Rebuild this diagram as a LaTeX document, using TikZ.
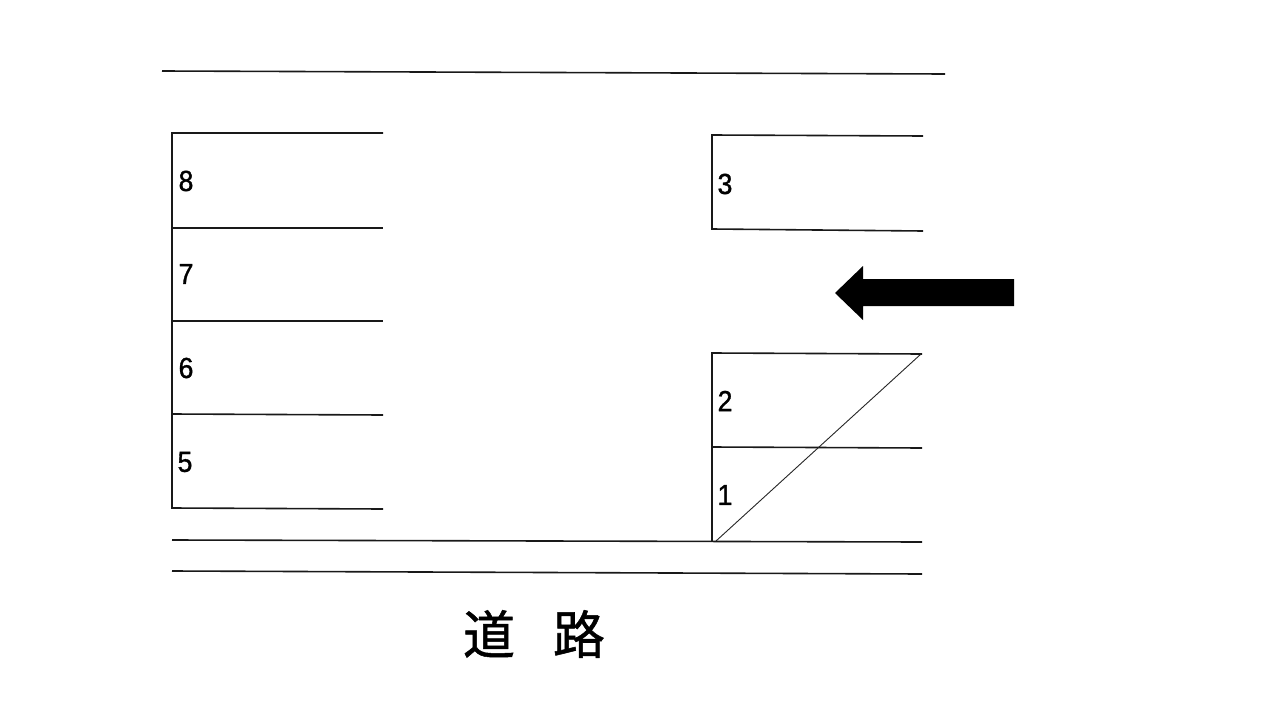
\documentclass[tikz,border=0pt]{standalone}
\usepackage{fontspec}
\setmainfont{Liberation Sans}
\newfontfamily\cjk[FakeBold=1]{Noto Sans CJK JP}
\newfontfamily\numf[FakeBold=1.2,FakeStretch=0.92]{Liberation Sans}
\tikzset{ln/.style={line width=1.6pt,black!90},thin ln/.style={line width=0.9pt,black!85},num/.style={font=\numf\fontsize{29}{29}\selectfont,inner sep=0pt,anchor=center}}
\begin{document}
\begin{tikzpicture}[x=1pt,y=-1pt]
\useasboundingbox[fill=white] (0,0) rectangle (1280,720);
\draw[ln] (162,71) -- (945,74);
\draw[ln] (383,133) -- (172,133) -- (172,508) -- (383,509);
\draw[ln] (172,228) -- (383,228);
\draw[ln] (172,321) -- (383,321);
\draw[ln] (172,414) -- (383,415);
\draw[ln] (923,136) -- (712,135) -- (712,229) -- (923,231);
\draw[ln] (922,354) -- (712,353) -- (712,541);
\draw[ln] (712,447) -- (922,448);
\draw[thin ln] (716,541) -- (921,354);
\draw[ln] (172,540) -- (922,542);
\draw[ln] (172,571) -- (922,574);
\node[num] (n8) at (186,181) {8};
\node[num] (n7) at (186,274) {7};
\node[num] (n6) at (186,368) {6};
\node[num] (n5) at (185,462) {5};
\node[num] (n3) at (725,184) {3};
\node[num] (n2) at (725,401) {2};
\node[num] (n1) at (725,495) {1};
\node[inner sep=0pt,font=\cjk\fontsize{52}{52}\selectfont] (road) at (534,634) {道\hspace{38pt}路};
\fill[black] (1014,279) -- (863,279) -- (863,266) -- (835,293) -- (863,320) -- (863,306) -- (1014,306) -- cycle;
\end{tikzpicture}
\end{document}
